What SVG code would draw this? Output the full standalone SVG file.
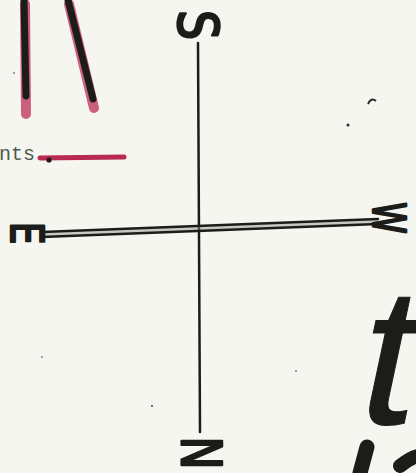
<svg xmlns="http://www.w3.org/2000/svg" width="416" height="473" viewBox="0 0 416 473">
<style>
.ink{stroke:#1c1c1a;fill:none;stroke-linecap:round}
.pink{stroke:#c23a60;fill:none;stroke-linecap:round;opacity:0.8}
.lbl{font-family:"DejaVu Sans","Liberation Sans",sans-serif;font-weight:normal;fill:#1c1c1a;stroke:#1c1c1a;stroke-width:2.5;stroke-linejoin:round;text-anchor:middle}
.note{font-family:"Liberation Mono","DejaVu Sans Mono",monospace;font-size:20px;fill:#4a5a4e}
.big{font-family:"Liberation Sans","DejaVu Sans",sans-serif;fill:#1c1c1a;stroke:#1c1c1a;stroke-width:1}
</style>
<rect width="416" height="473" fill="#f6f6f0"/>
<g id="strokes">
<path class="pink" d="M25 4 L26 114" stroke-width="10"/>
<path class="ink" d="M24 0 L26 96" stroke-width="7"/>
<path class="pink" d="M69 4 L94 108" stroke-width="10"/>
<path class="ink" d="M68 0 L93 99" stroke-width="7"/>
</g>
<g id="note">
<text class="note" x="-1" y="160">nts</text>
<path class="pink" d="M40 158 L124 157" stroke-width="5" style="opacity:1;stroke:#b82a50"/>
<circle cx="49" cy="160" r="2.6" fill="#1c1c1a"/>
</g>
<g id="connectors">
<path class="ink" d="M198 43 L200 432" stroke-width="2.5"/>
<path d="M42 232 L378 219 L378 224 L42 237 Z" fill="#9a9a94" opacity="0.5"/>
<path class="ink" d="M42 232 L378 219" stroke-width="2.4"/>
<path class="ink" d="M42 237 L378 224" stroke-width="2.4"/>
</g>
<g id="S"><text class="lbl" font-size="56" transform="translate(199,25) rotate(90) scale(0.85,1)" x="0" y="20">S</text></g>
<g id="E"><text class="lbl" font-size="44" transform="translate(27,233) rotate(90) scale(0.8,1)" x="0" y="16">E</text></g>
<g id="W"><text class="lbl" font-size="44" transform="translate(389,218) rotate(90) scale(0.72,1)" x="0" y="16">W</text></g>
<g id="N"><text class="lbl" font-size="56" transform="translate(202,453) rotate(90) scale(0.8,1)" x="0" y="20">N</text></g>
<g id="handwriting">
<text class="big" font-size="196" transform="translate(351,424) skewX(-12)" x="0" y="0">t</text>
<path class="ink" d="M367 447 L360 473" stroke-width="15"/>
<path class="ink" d="M400 466 Q410 458 418 456" stroke-width="14"/>
</g>
<g id="specks" fill="#2a2a28">
<path d="M368 104 Q371 97 376 101" stroke="#2a2a28" stroke-width="2" fill="none"/>
<circle cx="348" cy="125" r="1.5"/>
<circle cx="14" cy="73" r="0.8"/>
<circle cx="42" cy="357" r="0.8"/>
<circle cx="152" cy="406" r="0.9"/>
<circle cx="296" cy="371" r="0.8"/>
</g>
</svg>
